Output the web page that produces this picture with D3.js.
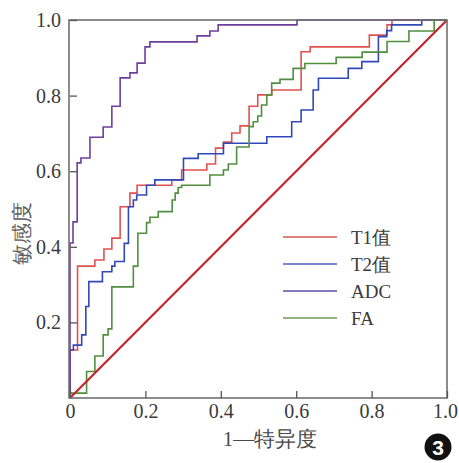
<!DOCTYPE html>
<html>
<head>
<meta charset="utf-8">
<script src="https://cdn.jsdelivr.net/npm/d3@7"></script>
<style>
  body { margin: 0; background: #fff; }
  svg { display: block; }
</style>
</head>
<body>
<svg id="roc" width="459" height="463"></svg>
<script>
// ROC steps (1-特异度, 敏感度), each point = top of a vertical step
const t1Fpr  = [0, 0, 0.020, 0.066, 0.090, 0.111, 0.133, 0.159, 0.178, 0.270, 0.296, 0.363, 0.386, 0.407, 0.429, 0.451, 0.475, 0.498, 0.535, 0.613, 0.637, 0.794, 0.841, 0.854, 1];
const t1Tpr  = [0, 0.127, 0.349, 0.365, 0.394, 0.423, 0.506, 0.542, 0.563, 0.577, 0.603, 0.619, 0.661, 0.677, 0.701, 0.720, 0.772, 0.802, 0.815, 0.916, 0.929, 0.960, 0.987, 1, 1];

const t2Fpr  = [0, 0, 0.009, 0.031, 0.042, 0.050, 0.086, 0.111, 0.119, 0.144, 0.155, 0.168, 0.177, 0.203, 0.225, 0.301, 0.340, 0.407, 0.522, 0.588, 0.613, 0.645, 0.659, 0.738, 0.774, 0.818, 0.840, 0.853, 0.933, 1];
const t2Tpr  = [0, 0.127, 0.140, 0.167, 0.242, 0.308, 0.334, 0.349, 0.361, 0.409, 0.506, 0.524, 0.537, 0.563, 0.577, 0.634, 0.646, 0.674, 0.691, 0.731, 0.762, 0.815, 0.846, 0.872, 0.890, 0.956, 0.972, 0.987, 1, 1];

const adcFpr = [0, 0, 0.008, 0.019, 0.029, 0.053, 0.088, 0.111, 0.133, 0.159, 0.178, 0.199, 0.212, 0.337, 0.371, 0.393, 0.602, 1];
const adcTpr = [0, 0.410, 0.466, 0.622, 0.635, 0.690, 0.717, 0.772, 0.847, 0.860, 0.886, 0.929, 0.942, 0.958, 0.971, 0.987, 1, 1];

const faFpr  = [0, 0, 0.044, 0.066, 0.088, 0.101, 0.111, 0.168, 0.180, 0.203, 0.212, 0.234, 0.271, 0.279, 0.287, 0.296, 0.371, 0.407, 0.420, 0.442, 0.475, 0.486, 0.498, 0.508, 0.522, 0.535, 0.557, 0.592, 0.623, 0.706, 0.775, 0.841, 0.899, 0.966, 1];
const faTpr  = [0, 0.013, 0.070, 0.111, 0.167, 0.183, 0.294, 0.349, 0.436, 0.464, 0.478, 0.493, 0.524, 0.542, 0.557, 0.563, 0.590, 0.603, 0.619, 0.664, 0.718, 0.731, 0.746, 0.775, 0.802, 0.833, 0.843, 0.872, 0.885, 0.901, 0.915, 0.943, 0.971, 1, 1];

const seriesNames = ["T1值", "T2值", "ADC", "FA"];
const seriesColors = ["#e0514f", "#3048b8", "#6d3f9c", "#4f8f3f"];
const legendColors = ["#d9534f", "#4a5cc0", "#5a4ea8", "#6c9a5c"];

const xTicks = [0, 0.2, 0.4, 0.6, 0.8, 1.0];
const yTicks = [0.2, 0.4, 0.6, 0.8, 1.0];

const serif = "'Liberation Serif', 'Times New Roman', serif";

const series = [
    [t1Fpr, t1Tpr],
    [t2Fpr, t2Tpr],
    [adcFpr, adcTpr],
    [faFpr, faTpr]
].map(([fx, ty], i) => ({
    name: seriesNames[i],
    color: seriesColors[i],
    points: fx.map((f, j) => ({ fpr: f, tpr: ty[j] }))
}));

const svg = d3.select("#roc");
const margin = { top: 20, right: 12, bottom: 65, left: 70 };
const width = 459, height = 463;

const x = d3.scaleLinear()
    .domain([0, 1])
    .range([margin.left, width - margin.right]);

const y = d3.scaleLinear()
    .domain([0, 1])
    .range([height - margin.bottom, margin.top]);

const line = d3.line()
    .x(d => x(d.fpr))
    .y(d => y(d.tpr))
    .curve(d3.curveStepAfter);

// curves
svg.append("g")
    .selectAll("path")
    .data(series)
    .join("path")
    .attr("fill", "none")
    .attr("stroke", d => d.color)
    .attr("stroke-width", 1.6)
    .attr("d", d => line(d.points));

// reference diagonal
svg.append("path")
    .datum([{ fpr: 0, tpr: 0 }, { fpr: 1, tpr: 1 }])
    .attr("fill", "none")
    .attr("stroke", "#c4262b")
    .attr("stroke-width", 2.2)
    .attr("d", d3.line().x(d => x(d.fpr)).y(d => y(d.tpr)));

// frame
svg.append("rect")
    .attr("x", x(0) - 1)
    .attr("y", y(1))
    .attr("width", x(1) - x(0) + 1)
    .attr("height", y(0) - y(1))
    .attr("fill", "none")
    .attr("stroke", "#707070")
    .attr("stroke-width", 1.6);

const xAxis = svg.append("g")
    .attr("transform", `translate(0, ${y(0)})`)
    .call(d3.axisBottom(x)
        .tickValues(xTicks)
        .tickSizeInner(-7)
        .tickSizeOuter(0)
        .tickPadding(6)
        .tickFormat(d => d === 0 ? "0" : d3.format(".1f")(d)));

const yAxis = svg.append("g")
    .attr("transform", `translate(${x(0)}, 0)`)
    .call(d3.axisLeft(y)
        .tickValues(yTicks)
        .tickSizeInner(-7)
        .tickSizeOuter(0)
        .tickPadding(9)
        .tickFormat(d3.format(".1f")));

[xAxis, yAxis].forEach(g => {
    g.attr("font-family", serif).attr("font-size", 20);
    g.select(".domain").remove();
    g.selectAll(".tick line").attr("stroke", "#555").attr("stroke-width", 1.3);
    g.selectAll(".tick text").attr("fill", "#3a3a3a");
});

// keep "1.0" inside the page
xAxis.selectAll(".tick text")
    .filter(d => d === 1)
    .attr("dx", -2);

// axis titles
svg.append("text")
    .attr("x", 270)
    .attr("y", 446)
    .attr("text-anchor", "middle")
    .attr("fill", "#4a4a4a")
    .attr("font-family", serif)
    .attr("font-size", 21)
    .text("1—特异度");

svg.append("text")
    .attr("transform", `translate(22, 233) rotate(-90)`)
    .attr("text-anchor", "middle")
    .attr("dy", "0.35em")
    .attr("fill", "#5e5e5e")
    .attr("font-family", serif)
    .attr("font-size", 21)
    .text("敏感度");

// legend
const legend = svg.append("g")
    .selectAll("g")
    .data(series)
    .join("g")
    .attr("transform", (d, i) => `translate(283, ${237 + i * 27})`);

legend.append("line")
    .attr("x1", 0)
    .attr("x2", 54)
    .attr("stroke", (d, i) => legendColors[i])
    .attr("stroke-width", 1.6);

legend.append("text")
    .attr("x", 68)
    .attr("dy", "0.35em")
    .attr("fill", "#3a3a3a")
    .attr("font-family", serif)
    .attr("font-size", 19)
    .text(d => d.name);

// panel number
svg.append("circle")
    .attr("cx", 438)
    .attr("cy", 447)
    .attr("r", 13.5)
    .attr("fill", "#111");

svg.append("text")
    .attr("x", 438)
    .attr("y", 447)
    .attr("dy", "0.36em")
    .attr("text-anchor", "middle")
    .attr("fill", "#fff")
    .attr("font-family", "'Liberation Sans', Arial, sans-serif")
    .attr("font-weight", "bold")
    .attr("font-size", 21)
    .text("3");
</script>
</body>
</html>
